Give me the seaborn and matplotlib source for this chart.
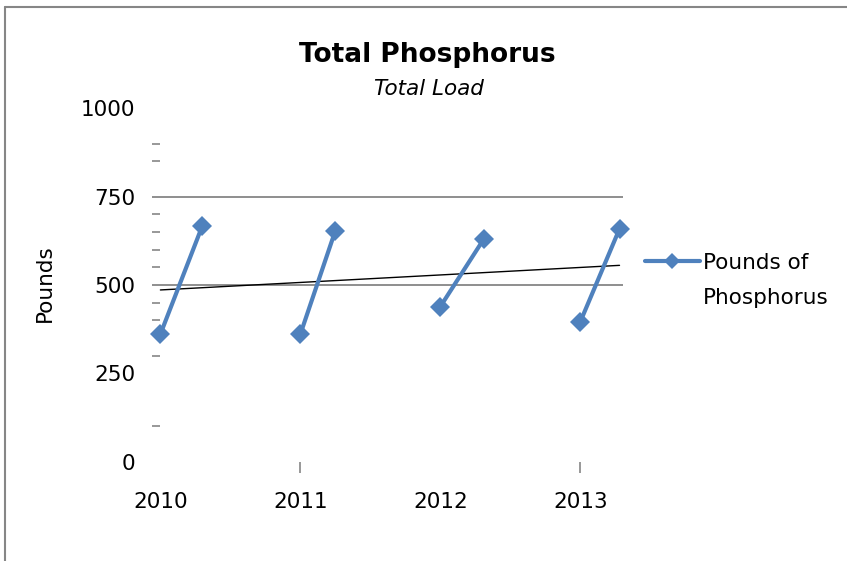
import numpy as np
import pandas as pd
import seaborn as sns
import matplotlib.pyplot as plt
from matplotlib.lines import Line2D

# two samples per year: start of year and later in the year
years = [2010, 2011, 2012, 2013]
sample_x = [2010.0, 2010.3, 2011.0, 2011.25, 2012.0, 2012.31, 2013.0, 2013.28]
sample_year = [2010, 2010, 2011, 2011, 2012, 2012, 2013, 2013]
pounds = [361, 668, 361, 654, 439, 630, 396, 659]
y_ticks = [0, 250, 500, 750, 1000]
y_minor = [100, 300, 400, 450, 550, 600, 650, 700, 850, 900]

df = pd.DataFrame({"x": sample_x, "year": sample_year, "pounds": pounds})

sns.set_style("white")
plt.rcParams["font.family"] = ["DejaVu Sans"]
plt.rcParams["text.color"] = "black"
plt.rcParams["xtick.labelcolor"] = "black"
plt.rcParams["ytick.labelcolor"] = "black"

W, H = 847, 561
fig = plt.figure(figsize=(W / 100, H / 100), dpi=100)
ax = fig.add_axes([152 / W, 1 - 461.7 / H, (623 - 152) / W, (461.7 - 108.4) / H])

blue = "#4F81BD"
grey = "#868686"
fs = 15.5

for g in [500, 750]:
    ax.axhline(g, color=grey, lw=1.3, zorder=1)

# linear trendline
sns.regplot(data=df, x="x", y="pounds", scatter=False, ci=None, truncate=True,
            color="black", line_kws={"lw": 1, "zorder": 2}, ax=ax)

sns.lineplot(data=df, x="x", y="pounds", units="year", estimator=None,
             color=blue, lw=3, marker="D", markersize=10, markeredgewidth=0,
             legend=False, ax=ax, zorder=3, clip_on=False)

ax.set_xlim(2009.94, 2013.305)
ax.set_ylim(0, 1000)
for s in ax.spines.values():
    s.set_visible(False)

ax.set_yticks(y_ticks)
ax.set_yticklabels([str(v) for v in y_ticks])
ax.set_yticks(y_minor, minor=True)
ax.tick_params(axis="y", which="major", left=True, length=0, pad=12,
               labelsize=fs, labelcolor="black")
ax.tick_params(axis="y", which="minor", left=True, direction="in", length=6,
               width=1.2, color=grey)

ax.xaxis.remove_overlapping_locs = False
ax.set_xticks(years)
ax.set_xticklabels([str(y) for y in years])
ax.set_xticks([2011, 2013], minor=True)
ax.tick_params(axis="x", which="major", bottom=True, length=0, pad=22,
               labelsize=fs, labelcolor="black")
ax.tick_params(axis="x", which="minor", bottom=True, direction="out", length=8,
               width=1.2, color=grey)
ax.set_xlabel("")
ax.set_ylabel("")

fig.text(427 / W, 1 - 55 / H, "Total Phosphorus", ha="center", va="center",
         fontsize=19, fontweight="bold", color="black")
fig.text(429 / W, 1 - 89 / H, "Total Load", ha="center", va="center",
         fontsize=fs, fontstyle="italic", color="black")
fig.text(45 / W, 1 - 283 / H, "Pounds", ha="center", va="center",
         rotation=90, fontsize=fs, color="black")

handle = Line2D([], [], color=blue, lw=3, marker="D", markersize=8, markeredgewidth=0)
fig.legend(handles=[handle], labels=["Pounds of"], loc="center left",
           bbox_to_anchor=(645 / W, 1 - 263 / H), frameon=False, fontsize=fs,
           handlelength=2.55, handletextpad=0.14, borderpad=0, borderaxespad=0,
           labelcolor="black")
fig.text(703 / W, 1 - 298 / H, "Phosphorus", ha="left", va="center",
         fontsize=fs, color="black")

# chart border (only top and left visible in the reference)
fig.add_artist(Line2D([4.5 / W, 4.5 / W], [0, 1 - 6.5 / H], transform=fig.transFigure,
                      color=grey, lw=1.5))
fig.add_artist(Line2D([4.5 / W, 1], [1 - 6.5 / H, 1 - 6.5 / H], transform=fig.transFigure,
                      color=grey, lw=1.5))

fig.savefig("out.png", dpi=100)
